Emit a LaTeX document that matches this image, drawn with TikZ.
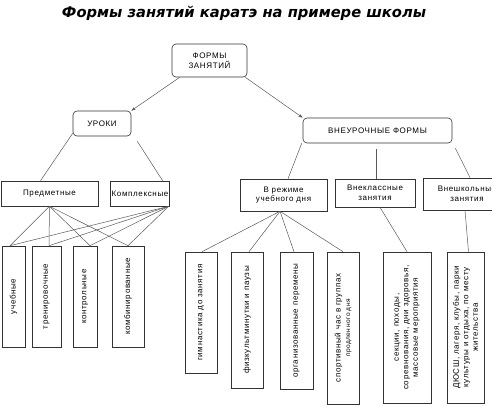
\documentclass[tikz,border=0pt]{standalone}
\usepackage{fontspec}
\setmainfont{Liberation Sans}
\newfontfamily\boxfont[LetterSpace=8]{Liberation Sans}
\newfontfamily\titlefont{DejaVu Sans}
\usetikzlibrary{arrows.meta}
\begin{document}
\begin{tikzpicture}[x=1pt,y=-1pt,
 box/.style={draw=black!80, line width=0.6pt, inner sep=1pt, align=center,
   font=\boxfont\fontsize{8}{9.5}\selectfont},
 rbox/.style={box, rounded corners=4pt},
 vbox/.style={box, rotate=90},
 link/.style={draw=black!65, line width=0.5pt},
 arr/.style={link, -{Stealth[length=4.5pt,width=3pt]}}]
\useasboundingbox (0,0) rectangle (492,405);

\node[font=\titlefont\bfseries\itshape\fontsize{14.7}{16}\selectfont] (title) at (244,13) {Формы занятий каратэ на примере школы};

% level 1-2
\node[rbox, minimum width=75pt, minimum height=33pt] (formy) at (209.5,60.5) {ФОРМЫ\\ЗАНЯТИЙ};
\node[rbox, minimum width=58pt, minimum height=25pt] (uroki) at (102,123.5) {УРОКИ};
\node[rbox, minimum width=149pt, minimum height=25pt] (vneur) at (377.5,130.5) {ВНЕУРОЧНЫЕ ФОРМЫ};

% level 3
\node[box, minimum width=97pt, minimum height=25pt] (pred) at (49.5,193.5) {Предметные};
\node[box, minimum width=56pt, minimum height=25pt] (kompl) at (140,193.5) {Комплексные};
\node[box, minimum width=87pt, minimum height=32pt] (rezhim) at (283.5,195) {В режиме\\учебного дня};
\node[box, minimum width=80pt, minimum height=28pt] (vnekl) at (375,193) {Внеклассные\\занятия};
\node[box, minimum width=88pt, minimum height=32pt] (vneshk) at (467,194) {Внешкольные\\занятия};

% level 4 left
\node[vbox, minimum width=101pt, minimum height=23pt] (ucheb) at (13.5,296.5) {учебные};
\node[vbox, minimum width=101pt, minimum height=29pt] (trenir) at (46.5,296.5) {тренировочные};
\node[vbox, minimum width=101pt, minimum height=24pt] (kontr) at (85,296.5) {контрольные};
\node[vbox, minimum width=101pt, minimum height=32pt] (kombin) at (128,296.5) {комбинированные};

% level 4 right
\node[vbox, minimum width=121pt, minimum height=32pt] (gimn) at (201,312.5) {гимнастика до занятия};
\node[vbox, minimum width=136pt, minimum height=32pt] (fizk) at (247,320) {физкультминутки и паузы};
\node[vbox, minimum width=137pt, minimum height=33pt] (org) at (296.5,320.5) {организованные перемены};
\node[vbox, minimum width=152pt, minimum height=32pt] (sport) at (343,328) {спортивный час в группах\\{\fontsize{6.5}{8}\selectfont продленного дня}};
\node[vbox, minimum width=151pt, minimum height=48pt] (sekc) at (407,327.5) {секции, походы,\\соревнования, дни здоровья,\\массовые мероприятия};
\node[vbox, minimum width=151pt, minimum height=37pt] (dyussh) at (465.5,327.5) {ДЮСШ, лагеря, клубы, парки\\культуры и отдыха, по месту\\жительства};

% connectors
\draw[arr] ([xshift=8pt]formy.south west) -- (uroki.north east);
\draw[arr] ([xshift=-2pt]formy.south east) -- (vneur.north west);

\draw[link] ([yshift=3pt]uroki.south west) -- ([xshift=-9pt]pred.north);
\draw[link] ([shift={(6pt,-5pt)}]uroki.south east) -- ([xshift=-7pt]kompl.north east);

\draw[link] ([xshift=-1pt]vneur.south west) -- ([xshift=4.5pt]rezhim.north);
\draw[link] ([shift={(-1.5pt,-6pt)}]vneur.south) -- ([xshift=1pt]vnekl.north);
\draw[link] ([shift={(3pt,-5pt)}]vneur.south east) -- ([xshift=3pt]vneshk.north);

\foreach \t/\s in {ucheb/-3.5pt, trenir/2.5pt, kontr/5pt, kombin/0pt}{
  \draw[link] (pred.south) -- ([xshift=\s]\t.east);
  \draw[link] ([xshift=-1pt]kompl.south east) -- ([xshift=\s]\t.east);
}

\draw[link] ([xshift=-3.5pt]rezhim.south) -- ([xshift=1pt]gimn.east);
\draw[link] ([xshift=-3.5pt]rezhim.south) -- ([xshift=2pt]fizk.east);
\draw[link] ([xshift=-3.5pt]rezhim.south) -- ([xshift=-2.5pt]org.east);
\draw[link] ([xshift=-3.5pt]rezhim.south) -- (sport.east);

\draw[link] ([xshift=5pt]vnekl.south) -- (sekc.east);
\draw[link] ([xshift=-2pt]vneshk.south) -- ([xshift=3pt]dyussh.east);
\end{tikzpicture}
\end{document}
